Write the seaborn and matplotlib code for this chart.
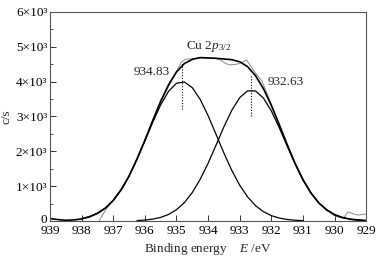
import pandas as pd
import seaborn as sns
import matplotlib
matplotlib.use("Agg")
import matplotlib.pyplot as plt
import matplotlib.transforms as mtransforms
from matplotlib.ticker import MultipleLocator

# binding energy grid (eV) and intensities (x10^3 c/s)
grid_e = [939.0, 938.75, 938.5, 938.25, 938.0, 937.75, 937.5, 937.25, 937.0, 936.75,
          936.5, 936.25, 936.0, 935.75, 935.5, 935.25, 935.0, 934.75, 934.5, 934.25,
          934.0, 933.75, 933.5, 933.25, 933.0, 932.75, 932.5, 932.25, 932.0, 931.75,
          931.5, 931.25, 931.0, 930.75, 930.5, 930.25, 930.0, 929.75, 929.5, 929.25, 929.0]

# fitted envelope
envelope = [0.07, 0.04, 0.02, 0.03, 0.06, 0.12, 0.22, 0.37, 0.59, 0.90,
            1.29, 1.78, 2.32, 2.89, 3.44, 3.91, 4.28, 4.52, 4.64, 4.69,
            4.68, 4.67, 4.65, 4.63, 4.57, 4.43, 4.17, 3.80, 3.32, 2.77,
            2.20, 1.66, 1.19, 0.81, 0.52, 0.32, 0.18, 0.10, 0.05, 0.03, 0.01]

# component peak at 934.83 eV
peak1_e = grid_e[4:33]
peak1 = [0.068, 0.126, 0.222, 0.371, 0.592, 0.896, 1.290, 1.764, 2.295, 2.837,
         3.334, 3.724, 3.953, 3.990, 3.827, 3.490, 3.024, 2.491, 1.951, 1.452,
         1.027, 0.691, 0.441, 0.268, 0.155, 0.085, 0.044, 0.022, 0.010]

# component peak at 932.63 eV
peak2_e = grid_e[11:]
peak2 = [0.012, 0.026, 0.054, 0.103, 0.188, 0.324, 0.528, 0.817, 1.196, 1.657,
         2.174, 2.702, 3.179, 3.542, 3.736, 3.732, 3.530, 3.162, 2.681, 2.153,
         1.637, 1.178, 0.803, 0.519, 0.317, 0.183, 0.100, 0.052, 0.026, 0.012]

# measured spectrum
raw_e = [937.45, 937.25, 937.05, 936.85, 936.7, 936.5, 936.25, 936.0, 935.75, 935.5,
         935.25, 935.05, 934.85, 934.72, 934.5, 934.25, 934.0, 933.75, 933.6, 933.45,
         933.3, 933.1, 932.95, 932.78, 932.6, 932.45, 932.3, 932.1, 931.9, 931.75,
         931.5, 931.25, 931.0, 930.75, 930.5, 930.25, 930.0, 929.8, 929.7, 929.58,
         929.5, 929.4, 929.25, 929.1, 929.0]
raw = [0.0, 0.30, 0.55, 0.78, 0.95, 1.30, 1.79, 2.30, 2.86, 3.40,
       3.86, 4.20, 4.55, 4.64, 4.66, 4.68, 4.68, 4.66, 4.62, 4.52,
       4.48, 4.50, 4.55, 4.62, 4.38, 4.18, 4.02, 3.58, 3.12, 2.78,
       2.20, 1.66, 1.20, 0.82, 0.53, 0.33, 0.15, 0.09, 0.10, 0.26,
       0.24, 0.20, 0.17, 0.19, 0.20]

peak_pos = [934.83, 932.63]
peak_labels = ["934.83", "932.63"]
dot_lo = [3.22, 3.02]
dot_hi = [4.54, 4.20]

x_ticks = [939, 938, 937, 936, 935, 934, 933, 932, 931, 930, 929]
y_ticks = [0, 1, 2, 3, 4, 5, 6]
y_tick_labels = ["0", "1×10³", "2×10³", "3×10³", "4×10³", "5×10³", "6×10³"]

sns.set_style("ticks")
plt.rcParams["font.family"] = ["Liberation Serif", "DejaVu Serif"]
plt.rcParams["mathtext.fontset"] = "custom"
plt.rcParams["mathtext.rm"] = "Liberation Serif"
plt.rcParams["mathtext.it"] = "Liberation Serif:italic"

fig, ax = plt.subplots(figsize=(3.85, 2.6), dpi=100)
fig.subplots_adjust(left=0.130, right=0.951, bottom=0.150, top=0.954)

sns.lineplot(x=raw_e, y=raw, ax=ax, color="#8a8a8a", linewidth=0.7,
             sort=False, estimator=None)
sns.lineplot(x=peak1_e, y=peak1, ax=ax, color="black", linewidth=0.9,
             sort=False, estimator=None)
sns.lineplot(x=peak2_e, y=peak2, ax=ax, color="black", linewidth=0.9,
             sort=False, estimator=None)
sns.lineplot(x=grid_e, y=envelope, ax=ax, color="black", linewidth=1.2,
             sort=False, estimator=None)

ax.vlines(peak_pos, dot_lo, dot_hi, colors="black", linestyles=(0, (1, 1.5)),
          linewidth=0.8)

fs = 9.5
ax.text(935.8, 4.28, peak_labels[0], fontsize=fs, ha="center", va="center")
ax.text(931.56, 4.0, peak_labels[1], fontsize=fs, ha="center", va="center")
ax.text(933.97, 5.0, r"Cu 2$p_{3/2}$", fontsize=fs, ha="center", va="center")

ax.set_xlim(939, 929)
ax.set_ylim(0, 6)
ax.set_xticks(x_ticks)
ax.set_xticklabels([str(t) for t in x_ticks])
ax.set_yticks(y_ticks)
ax.set_yticklabels(y_tick_labels)
ax.yaxis.set_minor_locator(MultipleLocator(0.5))

ax.tick_params(axis="both", which="major", direction="in", length=4, width=0.7,
               labelsize=fs, pad=2, colors="#333333", labelcolor="black")
ax.tick_params(axis="x", which="major", pad=3)
ax.tick_params(axis="y", which="minor", direction="in", length=2.5, width=0.6,
               colors="#333333")
for side in ["left", "right", "top", "bottom"]:
    ax.spines[side].set_visible(True)
    ax.spines[side].set_linewidth(0.8)
    ax.spines[side].set_color("#555555")

# lift the "0" label a little so it sits above the x tick labels
zero_label = ax.get_yticklabels()[0]
zero_label.set_transform(zero_label.get_transform() +
                         mtransforms.ScaledTranslation(0, 2 / 72, fig.dpi_scale_trans))

ax.set_xlabel(r"Binding energy    $E$ /eV", fontsize=fs, labelpad=3)
ax.set_ylabel("c/s", fontsize=fs, labelpad=2)

plt.savefig("out.png", dpi=100)
